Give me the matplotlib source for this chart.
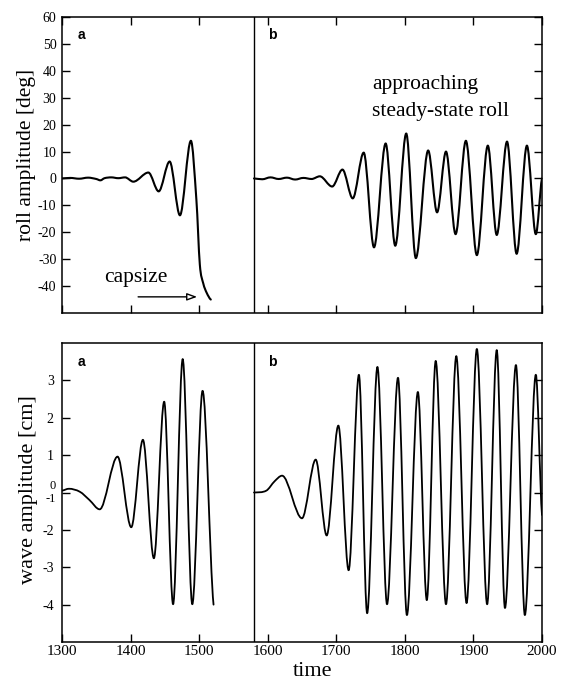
import numpy as np
import matplotlib
matplotlib.use("Agg")
import matplotlib.pyplot as plt
from matplotlib.path import Path
from matplotlib.patches import PathPatch
from matplotlib.transforms import blended_transform_factory

plt.rcParams['font.family'] = ['Liberation Serif', 'DejaVu Serif']

# ---------------- data ----------------
roll_a_t = [1300, 1312, 1325, 1338, 1350, 1356, 1362, 1372, 1382, 1392, 1404,
            1426, 1441, 1457, 1472, 1488, 1496, 1501, 1506, 1511, 1517]
roll_a_v = [0.0, 0.2, -0.1, 0.3, -0.2, -0.7, 0.1, 0.4, 0.1, 0.4, -1.2,
            2.2, -4.8, 6.3, -13.7, 14.0, -8.0, -32.0, -39.0, -42.5, -45.0]

roll_b_t = [1580, 1592, 1604, 1616, 1628, 1640, 1652, 1664, 1676, 1694, 1709,
            1724, 1740, 1755, 1772, 1786, 1802, 1816, 1834, 1847, 1860, 1874,
            1889, 1905, 1921, 1934, 1949, 1963, 1978, 1991, 2000]
roll_b_v = [0.0, -0.3, 0.4, -0.2, 0.3, -0.4, 0.2, -0.2, 0.8, -3.0, 3.3,
            -7.4, 9.6, -25.6, 13.0, -25.0, 16.7, -29.6, 10.4, -12.6, 10.0, -20.7,
            14.0, -28.5, 12.2, -21.0, 13.7, -28.0, 12.2, -20.7, 0.0]

wave_a_t = [1300, 1310, 1326, 1340, 1355, 1381, 1401, 1418, 1434, 1449, 1462,
            1476, 1490, 1505, 1521]
wave_a_v = [0.05, 0.1, 0.02, -0.2, -0.45, 0.96, -0.93, 1.41, -1.76, 2.43, -2.99,
            3.57, -2.99, 2.72, -3.0]

wave_b_t = [1580, 1598, 1610, 1621, 1650, 1670, 1686, 1703, 1718, 1733, 1745,
            1760, 1774, 1790, 1803, 1819, 1832, 1845, 1860, 1875, 1890, 1905,
            1920, 1934, 1946, 1962, 1975, 1991, 2000]
wave_b_v = [0.0, 0.05, 0.3, 0.45, -0.69, 0.88, -1.15, 1.79, -2.08, 3.15, -3.23,
            3.36, -2.99, 3.07, -3.28, 2.69, -2.88, 3.52, -2.99, 3.65, -2.96, 3.84,
            -2.99, 3.81, -3.09, 3.41, -3.28, 3.15, -0.6]

x_ticks = [1300, 1400, 1500, 1600, 1700, 1800, 1900, 2000]
x_ticklabels = ['1300', '1400', '1500', '1600', '1700', '1800', '1900', '2000']
roll_yticks = [60, 50, 40, 30, 20, 10, 0, -10, -20, -30, -40]
roll_yticklabels = ['60', '50', '40', '30', '20', '10', '0', '-10', '-20', '-30', '-40']
wave_yticks = [3, 2, 1, 0, -1, -2, -3]
wave_yticklabels = ['3', '2', '1', '', '-2', '-3', '-4']
wave_extra_labels = ['0', '-1']
split_time = 1580


def smooth_path(xs, ys):
    """Smooth cubic path through the read points (rendering only)."""
    xs = list(xs); ys = list(ys)
    n = len(xs)
    m = []
    for i in range(n):
        if i == 0 or i == n - 1:
            j0, j1 = max(i - 1, 0), min(i + 1, n - 1)
            m.append((ys[j1] - ys[j0]) / (xs[j1] - xs[j0]) * 0.5)
        elif (ys[i] - ys[i - 1]) * (ys[i + 1] - ys[i]) <= 0:
            m.append(0.0)
        else:
            m.append((ys[i + 1] - ys[i - 1]) / (xs[i + 1] - xs[i - 1]))
    verts = [(xs[0], ys[0])]
    codes = [Path.MOVETO]
    for i in range(n - 1):
        dx = xs[i + 1] - xs[i]
        verts += [(xs[i] + dx / 3, ys[i] + m[i] * dx / 3),
                  (xs[i + 1] - dx / 3, ys[i + 1] - m[i + 1] * dx / 3),
                  (xs[i + 1], ys[i + 1])]
        codes += [Path.CURVE4] * 3
    return Path(verts, codes)


def draw_curve(ax, xs, ys, lw):
    ax.add_patch(PathPatch(smooth_path(xs, ys), fill=False, ec='black', lw=lw,
                           transform=ax.transData, joinstyle='round', capstyle='round'))


W, H = 565, 682
fig = plt.figure(figsize=(W / 100, H / 100), dpi=100)
L, R = 62, 542
ax1 = fig.add_axes([L / W, 1 - 313 / H, (R - L) / W, (313 - 17) / H])
ax2 = fig.add_axes([L / W, 1 - 642 / H, (R - L) / W, (642 - 343) / H])

for ax in (ax1, ax2):
    ax.set_xlim(1300, 2000)
    ax.set_xticks(x_ticks)
    for s in ax.spines.values():
        s.set_linewidth(1.1)
    ax.axvline(split_time, color='black', lw=1.0)

# top panel
ax1.set_ylim(-50, 60)
draw_curve(ax1, roll_a_t, roll_a_v, 1.5)
draw_curve(ax1, roll_b_t, roll_b_v, 1.5)
ax1.set_yticks(roll_yticks)
ax1.set_yticklabels(roll_yticklabels)
ax1.set_xticklabels([])
ax1.tick_params(axis='both', direction='in', length=6, width=1.0,
                top=True, right=True, labelsize=10, pad=4)
ax1.tick_params(axis='x', labelbottom=False)

ax1.text(0.032, 0.94, 'a', transform=ax1.transAxes, ha='left', va='center',
         fontsize=10, fontweight='bold', family=['Liberation Sans', 'DejaVu Sans'])
ax1.text(0.43, 0.94, 'b', transform=ax1.transAxes, ha='left', va='center',
         fontsize=10, fontweight='bold', family=['Liberation Sans', 'DejaVu Sans'])
ax1.text(1752, 34.8, 'approaching', ha='left', va='center', fontsize=15.5)
ax1.text(1752, 24.8, 'steady-state roll', ha='left', va='center', fontsize=15.5)
ax1.text(1361, -36.7, 'capsize', ha='left', va='center', fontsize=15.5)
ax1.annotate('', xy=(1497, -44), xytext=(1411, -44),
             arrowprops=dict(arrowstyle='-|>,head_length=0.6,head_width=0.22',
                             fc='white', ec='black', lw=1.0, shrinkA=0, shrinkB=0))

# bottom panel
ax2.set_ylim(-4, 4)
draw_curve(ax2, wave_a_t, wave_a_v, 1.3)
draw_curve(ax2, wave_b_t, wave_b_v, 1.3)
ax2.set_yticks(wave_yticks)
ax2.set_yticklabels(wave_yticklabels)
ax2.set_xticklabels(x_ticklabels)
ax2.tick_params(axis='both', direction='in', length=6, width=1.0,
                right=True, labelsize=11)
ax2.tick_params(axis='x', pad=2)
ax2.tick_params(axis='y', labelsize=10, pad=6)
trans = blended_transform_factory(ax2.transAxes, ax2.transData)
ax2.text(-6 / (R - L), 0.17, wave_extra_labels[0], transform=trans, ha='right',
         va='center', fontsize=9)
ax2.text(-6 / (R - L), -0.17, wave_extra_labels[1], transform=trans, ha='right',
         va='center', fontsize=9)
ax2.text(0.032, 0.936, 'a', transform=ax2.transAxes, ha='left', va='center',
         fontsize=10, fontweight='bold', family=['Liberation Sans', 'DejaVu Sans'])
ax2.text(0.43, 0.936, 'b', transform=ax2.transAxes, ha='left', va='center',
         fontsize=10, fontweight='bold', family=['Liberation Sans', 'DejaVu Sans'])

fig.text(27 / W, 1 - 155 / H, 'roll amplitude [deg]', rotation=90,
         ha='center', va='center', fontsize=15.5)
fig.text(29 / W, 1 - 490 / H, 'wave amplitude [cm]', rotation=90,
         ha='center', va='center', fontsize=16)
fig.text(313 / W, 1 - 671 / H, 'time', ha='center', va='center', fontsize=16)

fig.savefig('out.png', dpi=100)
